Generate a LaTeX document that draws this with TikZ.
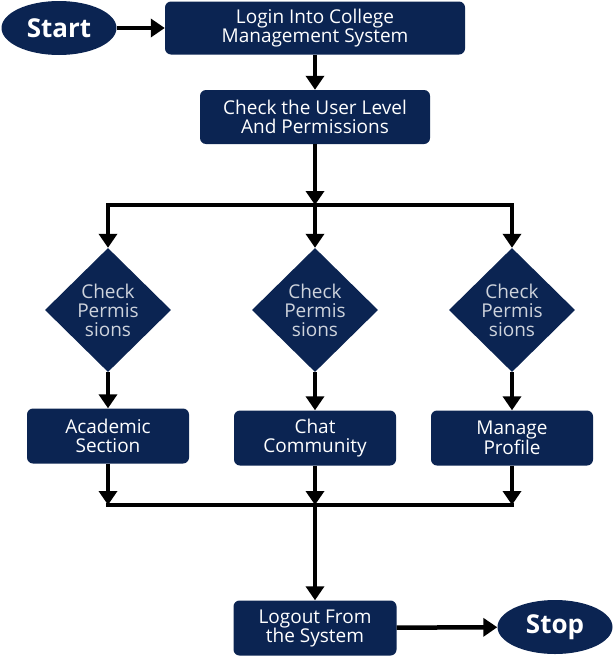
\documentclass[tikz,border=0pt]{standalone}
\usepackage{fontspec}
\setmainfont{Open Sans}
\usetikzlibrary{shapes.geometric,arrows.meta}
\definecolor{navy}{HTML}{0B2452}
\begin{document}
\begin{tikzpicture}[x=1pt,y=-1pt,
  box/.style={fill=navy,rounded corners=6pt,text=white,align=center,inner sep=0pt,font=\fontsize{19}{19}\selectfont},
  term/.style={ellipse,fill=navy,text=white,inner sep=0pt,minimum width=115pt,minimum height=54pt,font=\fontsize{26}{28}\selectfont\bfseries},
  check/.style={diamond,fill=navy,text=white!80!navy,align=center,inner sep=0pt,minimum width=126pt,minimum height=124pt,font=\fontsize{19}{19}\selectfont},
  arr/.style={line width=4.5pt,-{Triangle[width=18pt,length=14pt]}},
  ln/.style={line width=4.5pt}]
\useasboundingbox (0,0) rectangle (613,656);
% start and login
\node [term] (start) at (59,28) {Start};
\node [box,minimum width=300pt,minimum height=53pt] (login) at (315,28) {Login Into College\\Management System};
\node [box,minimum width=230pt,minimum height=54pt] (level) at (315,117) {Check the User Level\\And Permissions};
\draw [arr] (start) -- (login);
\draw [arr] (login) -- (level);
% branches
\coordinate (split) at (315,205);
\node [check] (permA) at (108,310) {Check\\Permis\\sions};
\node [check] (permB) at (315,310) {Check\\Permis\\sions};
\node [check] (permC) at (512,310) {Check\\Permis\\sions};
\draw [arr] (level) -- (split);
\draw [arr] (split) -| (permA);
\draw [arr] (split) -| (permC);
\draw [arr] (split) -- (permB);
\node [box,minimum width=162pt,minimum height=55pt] (academic) at (108,436) {Academic\\Section};
\node [box,minimum width=162pt,minimum height=55pt] (chat) at (315,438) {Chat\\Community};
\node [box,minimum width=162pt,minimum height=55pt] (profile) at (512,438) {Manage\\Profile};
\draw [arr] (permA) -- (academic);
\draw [arr] (permB) -- (chat);
\draw [arr] (permC) -- (profile);
% join and logout
\coordinate (join) at (315,505);
\draw [ln,line cap=rect] (academic |- join) -- (profile |- join);
\draw [arr] (academic) -- (academic |- join);
\draw [arr] (chat) -- (join);
\draw [arr] (profile) -- (profile |- join);
\node [box,minimum width=163pt,minimum height=55pt] (logout) at (315,628) {Logout From\\the System};
\node [term] (stop) at (555,627) {Stop};
\draw [arr] (join) -- (logout);
\draw [arr] (logout) -- (stop);
\end{tikzpicture}
\end{document}
